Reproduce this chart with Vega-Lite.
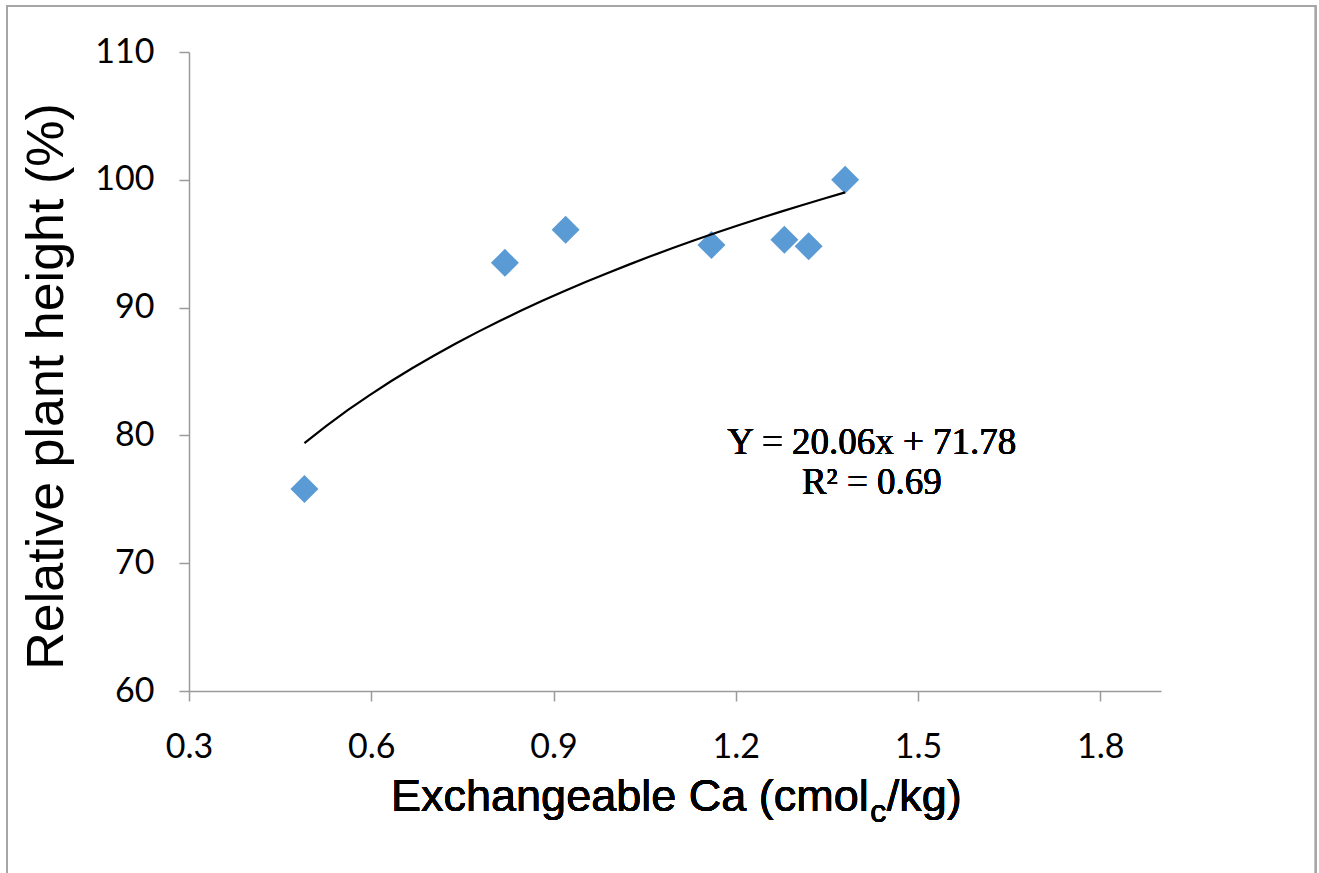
{
  "$schema": "https://vega.github.io/schema/vega-lite/v6.json",
  "width": 972,
  "height": 639,
  "autosize": "none",
  "padding": {"left": 189, "top": 52, "right": 158, "bottom": 182},
  "background": "white",
  "config": {
    "view": {"stroke": null},
    "font": "Liberation Sans",
    "axis": {
      "grid": false,
      "domainColor": "#9B9B9B",
      "domainWidth": 1.5,
      "tickColor": "#9B9B9B",
      "tickWidth": 1.5,
      "tickSize": 10,
      "labelFont": "Lato",
      "labelFontSize": 34,
      "labelColor": "#000000",
      "titleColor": "#000000"
    }
  },
  "data": {
    "values": [
      {"ca": 0.49, "height": 75.8},
      {"ca": 0.82, "height": 93.5},
      {"ca": 0.92, "height": 96.1},
      {"ca": 1.16, "height": 94.9},
      {"ca": 1.28, "height": 95.3},
      {"ca": 1.32, "height": 94.8},
      {"ca": 1.38, "height": 100.0}
    ]
  },
  "layer": [
    {
      "mark": {"type": "rect", "fill": null, "fillOpacity": 0, "stroke": "#A6A6A6", "strokeWidth": 1.5},
      "encoding": {
        "x": {"datum": 0.0, "type": "quantitative"},
        "x2": {"datum": 2.1545},
        "y": {"datum": 113.6, "type": "quantitative"},
        "y2": {"datum": 45}
      }
    },
    {
      "mark": {"type": "point", "shape": "diamond", "filled": true, "size": 784, "color": "#5B9BD5", "opacity": 1},
      "encoding": {
        "x": {
          "field": "ca",
          "type": "quantitative",
          "scale": {"domain": [0.3, 1.9], "nice": false, "zero": false},
          "axis": {
            "values": [0.3, 0.6, 0.9, 1.2, 1.5, 1.8],
            "format": ".1f",
            "labelPadding": 29,
            "labelFlush": false,
            "title": null
          }
        },
        "y": {
          "field": "height",
          "type": "quantitative",
          "scale": {"domain": [60, 110], "nice": false, "zero": false},
          "axis": {
            "values": [60, 70, 80, 90, 100, 110],
            "labelPadding": 25,
            "labelFlush": false,
            "title": "Relative plant height (%)",
            "titleFont": "Liberation Sans",
            "titleFontSize": 52,
            "titleFontWeight": "normal",
            "titleBaseline": "alphabetic",
            "titleX": -127,
            "titleY": 334
          }
        }
      }
    },
    {
      "transform": [{"regression": "height", "on": "ca", "method": "log"}],
      "mark": {"type": "line", "color": "#000000", "strokeWidth": 2.2},
      "encoding": {
        "x": {"field": "ca", "type": "quantitative"},
        "y": {"field": "height", "type": "quantitative"}
      }
    },
    {
      "mark": {"type": "text", "font": "Liberation Serif", "fontSize": 37, "align": "center", "baseline": "alphabetic", "color": "#000000"},
      "encoding": {
        "x": {"datum": 1.424, "type": "quantitative"},
        "y": {"datum": 78.57, "type": "quantitative"},
        "text": {"value": "Y = 20.06x + 71.78"}
      }
    },
    {
      "mark": {"type": "text", "font": "Liberation Serif", "fontSize": 37, "align": "center", "baseline": "alphabetic", "color": "#000000"},
      "encoding": {
        "x": {"datum": 1.424, "type": "quantitative"},
        "y": {"datum": 75.43, "type": "quantitative"},
        "text": {"value": "R² = 0.69"}
      }
    },
    {
      "mark": {"type": "text", "font": "Liberation Sans", "fontSize": 45, "align": "right", "baseline": "alphabetic", "color": "#000000"},
      "encoding": {
        "x": {"datum": 1.419, "type": "quantitative"},
        "y": {"datum": 50.61, "type": "quantitative"},
        "text": {"value": "Exchangeable Ca (cmol"}
      }
    },
    {
      "mark": {"type": "text", "font": "Liberation Sans", "fontSize": 32, "align": "left", "baseline": "alphabetic", "color": "#000000"},
      "encoding": {
        "x": {"datum": 1.4215, "type": "quantitative"},
        "y": {"datum": 49.75, "type": "quantitative"},
        "text": {"value": "c"}
      }
    },
    {
      "mark": {"type": "text", "font": "Liberation Sans", "fontSize": 45, "align": "left", "baseline": "alphabetic", "color": "#000000"},
      "encoding": {
        "x": {"datum": 1.4485, "type": "quantitative"},
        "y": {"datum": 50.61, "type": "quantitative"},
        "text": {"value": "/kg)"}
      }
    }
  ]
}
